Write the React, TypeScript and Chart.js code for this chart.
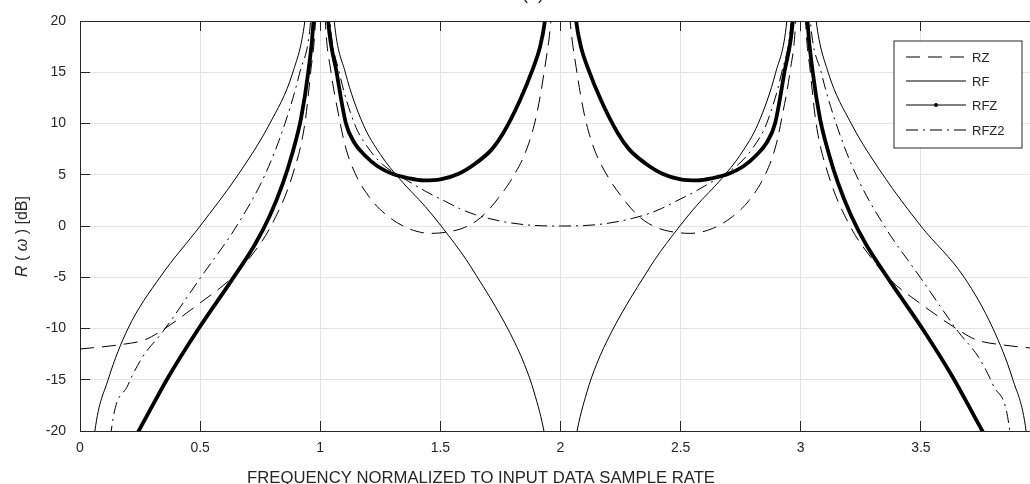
import { useEffect, useRef } from "react";
import { Chart, registerables } from "chart.js";

Chart.register(...registerables);

const FONT = '"Liberation Sans", Arial, Helvetica, sans-serif';
const AXIS = "#262626";

const xTicks = [0, 0.5, 1, 1.5, 2, 2.5, 3, 3.5, 4];
const yTicks = [-20, -15, -10, -5, 0, 5, 10, 15, 20];

const xTitle = "FREQUENCY NORMALIZED TO INPUT DATA SAMPLE RATE";
const figTitle = "(b)";
const legendLabels = ["RZ", "RF", "RFZ", "RFZ2"];

// RZ (dashed)
const rzX = [0, 0.16, 0.27, 0.34, 0.5, 0.63, 0.71, 0.795, 0.885, 0.936, 0.96, 0.98, 0.99, 1,
  1.01, 1.021, 1.045, 1.075, 1.104, 1.146, 1.215, 1.285, 1.368, 1.46, 1.55, 1.6, 1.65, 1.694, 1.75, 1.8, 1.861, 1.9, 1.935, 1.96, 1.98, 2,
  2.02, 2.04, 2.065, 2.1, 2.139, 2.2, 2.25, 2.306, 2.35, 2.4, 2.45, 2.54, 2.632, 2.715, 2.785, 2.854, 2.896, 2.925, 2.955, 2.979, 2.99, 3,
  3.01, 3.02, 3.04, 3.064, 3.115, 3.205, 3.29, 3.37, 3.5, 3.66, 3.73, 3.84, 4];
const rzY = [-12, -11.6, -11.1, -10.2, -7.5, -5.1, -3.0, 0, 5, 10, 15, 20, 27, null,
  27, 20, 15, 11, 7.8, 5.1, 2.5, 0.9, -0.25, -0.72, -0.5, -0.15, 0.5, 1.4, 3.0, 4.7, 7.6, 10.8, 15.5, 20, 27, null,
  27, 20, 15.5, 10.8, 7.6, 4.7, 3.0, 1.4, 0.5, -0.15, -0.5, -0.72, -0.25, 0.9, 2.5, 5.1, 7.8, 11, 15, 20, 27, null,
  27, 20, 15, 10, 5, 0, -3.0, -5.2, -7.6, -10.2, -11.1, -11.6, -12];

// RF (thin solid)
const rfX = [0.05, 0.062, 0.117, 0.2, 0.333, 0.5, 0.658, 0.79, 0.886, 0.936, 0.96, 1,
  1.04, 1.058, 1.104, 1.177, 1.25, 1.33, 1.437, 1.51, 1.608, 1.646, 1.71, 1.789, 1.85, 1.89, 1.935, 1.95, 2,
  2.05, 2.065, 2.11, 2.15, 2.211, 2.29, 2.354, 2.392, 2.49, 2.563, 2.67, 2.75, 2.823, 2.896, 2.942, 2.96, 3,
  3.04, 3.064, 3.114, 3.21, 3.342, 3.5, 3.68, 3.8, 3.883, 3.938, 3.95];
const rfY = [-23, -20, -15, -10, -5, 0, 5, 10, 15, 20, 26, null,
  26, 20, 15, 10, 7.0, 4.6, 1.9, -0.2, -3.3, -4.7, -7.1, -10.4, -13.5, -16.2, -20.5, -23, null,
  -23, -20.5, -16.2, -13.5, -10.4, -7.1, -4.7, -3.3, -0.2, 1.9, 4.6, 7.0, 10, 15, 20, 26, null,
  26, 20, 15, 10, 5, 0, -5, -10, -15, -20, -23];

// RFZ (thick, dotted markers)
const rfzX = [0.17, 0.244, 0.366, 0.494, 0.631, 0.728, 0.79, 0.845, 0.885, 0.92, 0.95, 0.972, 0.985, 1,
  1.015, 1.033, 1.068, 1.107, 1.14, 1.185, 1.24, 1.3, 1.368, 1.43, 1.5, 1.576, 1.646, 1.715, 1.76, 1.83, 1.886, 1.914, 1.935, 1.955, 2,
  2.045, 2.065, 2.086, 2.114, 2.17, 2.24, 2.285, 2.354, 2.424, 2.5, 2.57, 2.632, 2.7, 2.76, 2.815, 2.86, 2.893, 2.932, 2.967, 2.985, 3,
  3.015, 3.028, 3.05, 3.08, 3.115, 3.155, 3.21, 3.272, 3.369, 3.506, 3.634, 3.756, 3.83];
const rfzY = [-23, -20, -14.8, -10, -5.3, -1.8, 1, 4.2, 7.2, 10.5, 15, 20, 27, null,
  27, 20, 15, 10, 8.2, 6.9, 5.8, 5.1, 4.66, 4.45, 4.55, 5.1, 6.1, 7.5, 9.0, 12.2, 15.4, 17.4, 20, 25, null,
  25, 20, 17.4, 15.4, 12.2, 9.0, 7.5, 6.1, 5.1, 4.55, 4.45, 4.66, 5.1, 5.8, 6.9, 8.2, 10, 15, 20, 27, null,
  27, 20, 15, 10.5, 7.2, 4.2, 1, -1.8, -5.3, -10, -14.8, -20, -23];

// RFZ2 (dash-dot)
const rfz2X = [0.12, 0.13, 0.2, 0.26, 0.345, 0.503, 0.652, 0.77, 0.853, 0.915, 0.96, 0.975, 1,
  1.025, 1.04, 1.079, 1.142, 1.2, 1.26, 1.33, 1.437, 1.521, 1.58, 1.646, 1.757, 1.85, 1.924, 2, 2.076, 2.15, 2.243, 2.354, 2.42, 2.479, 2.563, 2.67, 2.74, 2.8, 2.858, 2.921, 2.96, 2.975, 3,
  3.025, 3.04, 3.085, 3.147, 3.23, 3.348, 3.497, 3.655, 3.74, 3.8, 3.87, 3.88];
const rfz2Y = [-23, -20, -15.5, -12.8, -10.3, -5, 0, 5, 10, 15, 20, 26, null,
  26, 20, 15, 10, 7.6, 6.0, 4.9, 3.4, 2.4, 1.7, 1.1, 0.45, 0.13, 0.02, 0, 0.02, 0.13, 0.45, 1.1, 1.7, 2.4, 3.4, 4.9, 6.0, 7.6, 10, 15, 20, 26, null,
  26, 20, 15, 10, 5, 0, -5, -10.3, -12.8, -15.5, -20, -23];

const toPts = (xs: number[], ys: (number | null)[]) => xs.map((x, i) => ({ x, y: ys[i] }));

const DASH_RZ = [14, 8];
const DASH_RFZ2 = [12, 5, 2, 5];

const align = (p: number) => Math.round(p - 0.5) + 0.5;

const overlay = {
  id: "overlay",
  afterDraw(chart: any) {
    const { ctx, chartArea: a, scales } = chart;
    const xs = scales.x;
    const ys = scales.y;
    ctx.save();
    ctx.strokeStyle = AXIS;
    ctx.lineWidth = 1;
    ctx.setLineDash([]);
    ctx.beginPath();
    ctx.moveTo(a.left, align(a.top));
    ctx.lineTo(a.right, align(a.top));
    ctx.moveTo(align(a.right), a.top);
    ctx.lineTo(align(a.right), a.bottom);
    ctx.stroke();
    ctx.beginPath();
    for (const v of xTicks) {
      const px = align(xs.getPixelForValue(v));
      ctx.moveTo(px, a.bottom);
      ctx.lineTo(px, a.bottom - 10);
      ctx.moveTo(px, a.top);
      ctx.lineTo(px, a.top + 10);
    }
    for (const v of yTicks) {
      const py = align(ys.getPixelForValue(v));
      ctx.moveTo(a.left, py);
      ctx.lineTo(a.left + 10, py);
      ctx.moveTo(a.right, py);
      ctx.lineTo(a.right - 10, py);
    }
    ctx.stroke();

    // legend
    const lx0 = 894, ly0 = 41, lx1 = 1022, ly1 = 148;
    ctx.fillStyle = "#ffffff";
    ctx.fillRect(lx0, ly0, lx1 - lx0, ly1 - ly0);
    ctx.strokeStyle = AXIS;
    ctx.strokeRect(lx0, ly0, lx1 - lx0, ly1 - ly0);
    const rowsY = [57, 81, 105, 130];
    const dashes = [DASH_RZ, [], [], DASH_RFZ2];
    ctx.font = `13px ${FONT}`;
    ctx.textBaseline = "middle";
    ctx.textAlign = "left";
    legendLabels.forEach((lab, i) => {
      const y = rowsY[i];
      ctx.strokeStyle = "#000";
      ctx.lineWidth = 1;
      ctx.setLineDash(dashes[i]);
      ctx.beginPath();
      ctx.moveTo(906, y);
      ctx.lineTo(966, y);
      ctx.stroke();
      ctx.setLineDash([]);
      if (i === 2) {
        ctx.fillStyle = "#000";
        ctx.beginPath();
        ctx.arc(936, y, 2, 0, Math.PI * 2);
        ctx.fill();
      }
      ctx.fillStyle = AXIS;
      ctx.fillText(lab, 972, y + 1);
    });

    // x title
    ctx.fillStyle = AXIS;
    ctx.font = `16.7px ${FONT}`;
    ctx.textAlign = "center";
    ctx.textBaseline = "alphabetic";
    ctx.fillText(xTitle, 481, 483);

    // figure title (clipped at top)
    ctx.font = `18px ${FONT}`;
    ctx.fillText(figTitle, 533, -1.5);

    // y title: R (ω) [dB]
    ctx.save();
    ctx.translate(27, 277);
    ctx.rotate(-Math.PI / 2);
    ctx.textAlign = "left";
    const pieces: [string, boolean][] = [["R", true], [" (", false], [" ", false], ["ω", true], [" )", false], [" [dB]", false]];
    let cx = 0;
    for (const [t, it] of pieces) {
      ctx.font = `${it ? "italic " : ""}16px ${FONT}`;
      ctx.fillText(t, cx, 0);
      cx += ctx.measureText(t).width;
    }
    ctx.restore();
    ctx.restore();
  },
};

export default function App() {
  const ref = useRef<HTMLCanvasElement>(null);
  useEffect(() => {
    const common = {
      borderColor: "#000",
      backgroundColor: "#000",
      pointRadius: 0,
      fill: false,
      spanGaps: false,
      cubicInterpolationMode: "monotone" as const,
      clip: 0,
    };
    const chart = new Chart(ref.current!, {
      type: "line",
      data: {
        datasets: [
          { ...common, label: "RZ", data: toPts(rzX, rzY), borderWidth: 1, borderDash: DASH_RZ },
          { ...common, label: "RF", data: toPts(rfX, rfY), borderWidth: 1 },
          { ...common, label: "RFZ", data: toPts(rfzX, rfzY), borderWidth: 3.8 },
          { ...common, label: "RFZ2", data: toPts(rfz2X, rfz2Y), borderWidth: 1, borderDash: DASH_RFZ2 },
        ],
      },
      options: {
        responsive: false,
        animation: false,
        events: [],
        layout: { padding: { left: 0, right: 9, top: 21, bottom: 0 } },
        plugins: { legend: { display: false }, tooltip: { enabled: false }, title: { display: false } },
        scales: {
          x: {
            type: "linear",
            min: 0,
            max: 4,
            afterFit: (s: any) => { s.height = 53; s.paddingLeft = 0; s.paddingRight = 0; },
            ticks: {
              stepSize: 0.5, autoSkip: false, maxRotation: 0,
              font: { family: FONT, size: 14 }, color: AXIS, padding: 9,
              callback: (v: any) => `${v}`,
            },
            grid: { color: "#e3e3e3", drawTicks: false, lineWidth: 1 },
            border: { display: true, color: AXIS, width: 1 },
          },
          y: {
            type: "linear",
            min: -20,
            max: 20,
            afterFit: (s: any) => { s.width = 80; s.paddingTop = 0; s.paddingBottom = 0; },
            ticks: { stepSize: 5, font: { family: FONT, size: 14 }, color: AXIS, padding: 14, callback: (v: any) => `${v}` },
            grid: { color: "#e3e3e3", drawTicks: false, lineWidth: 1 },
            border: { display: true, color: AXIS, width: 1 },
          },
        },
      },
      plugins: [overlay],
    });
    return () => chart.destroy();
  }, []);
  return (
    <div style={{ position: "absolute", left: 0, top: 0, width: 1030, height: 484, overflow: "hidden", background: "#fff" }}>
      <canvas ref={ref} width={1050} height={484} style={{ display: "block", width: 1050, height: 484 }} />
    </div>
  );
}
